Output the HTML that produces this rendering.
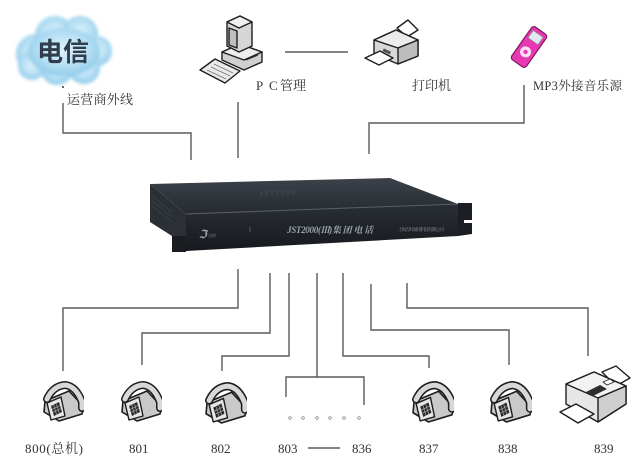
<!DOCTYPE html>
<html><head><meta charset="utf-8"><style>
html,body{margin:0;padding:0;background:#fff;}
svg{display:block;}
text{font-family:"Liberation Serif","Noto Serif CJK SC",serif;fill:#333;}
</style></head><body>
<svg width="644" height="464" viewBox="0 0 644 464" xmlns="http://www.w3.org/2000/svg">
<defs>
<radialGradient id="cg" cx="50%" cy="45%" r="60%">
<stop offset="0" stop-color="#dff2fb"/><stop offset="0.6" stop-color="#b3def3"/><stop offset="1" stop-color="#86c6e6"/>
</radialGradient>
<filter id="bl" x="-10%" y="-10%" width="120%" height="120%"><feGaussianBlur stdDeviation="1.5"/></filter>
<linearGradient id="topg" x1="0" y1="0" x2="0" y2="1">
<stop offset="0" stop-color="#3c424a"/><stop offset="1" stop-color="#262a30"/>
</linearGradient>
<linearGradient id="frg" x1="0" y1="0" x2="0" y2="1">
<stop offset="0" stop-color="#2a2f36"/><stop offset="1" stop-color="#16191d"/>
</linearGradient>
<symbol id="phone" viewBox="0 0 42 40">
<polygon points="3,20 27,10 42,26 40,33 17,40 2,31" fill="#c9c9c9" stroke="#1e1e1e" stroke-width="1.6" stroke-linejoin="round"/>
<path d="M5,18 Q11,5 23,4 Q34,5 40,21 L40,27" fill="none" stroke="#1e1e1e" stroke-width="8" stroke-linecap="round"/>
<path d="M5,18 Q11,5 23,4 Q34,5 40,21 L40,27" fill="none" stroke="#d8d8d8" stroke-width="5" stroke-linecap="round"/>
<polygon points="5,22 19,16 23,35 9,39" fill="#e6e6e6" stroke="#1e1e1e" stroke-width="1.4" stroke-linejoin="round"/>
<polygon points="9,25 17,21 20,31 12,35" fill="#2a2a2a"/>
<g stroke="#bbb" stroke-width="0.6">
<line x1="10" y1="28.5" x2="18" y2="24.5"/><line x1="11" y1="31.5" x2="19" y2="27.5"/>
<line x1="11.7" y1="24" x2="14.7" y2="34"/><line x1="14.4" y1="22.8" x2="17.4" y2="32.8"/>
</g>
</symbol>
</defs>

<!-- connector lines -->
<g stroke="#5a5a5a" stroke-width="1.4" fill="none">
<polyline points="63,103 63,133 191,133 191,160"/>
<line x1="238" y1="102" x2="238" y2="158"/>
<line x1="285" y1="52" x2="348" y2="52"/>
<polyline points="524,85 524,123 369,123 369,154"/>

<polyline points="238,269 238,308 63,308 63,371"/>
<polyline points="270,273 270,333 142,333 142,365"/>
<polyline points="289,273 289,356 222,356 222,371"/>
<polyline points="317,273 317,377"/>
<polyline points="286,397 286,377 364,377 364,405"/>
<polyline points="343,273 343,356 429,356 429,368"/>
<polyline points="371,284 371,330 509,330 509,365"/>
<polyline points="407,283 407,308 588,308 588,356"/>
<line x1="308" y1="448" x2="340" y2="448"/>
</g>
<circle cx="63" cy="87" r="1" fill="#333"/>

<!-- cloud -->
<g filter="url(#bl)" fill="url(#cg)">
<circle cx="36" cy="54" r="20"/><circle cx="55" cy="36" r="20"/><circle cx="80" cy="34" r="18"/>
<circle cx="97" cy="51" r="15"/><circle cx="84" cy="68" r="16"/><circle cx="57" cy="69" r="16"/>
<circle cx="32" cy="66" r="14"/><ellipse cx="64" cy="52" rx="36" ry="24"/>
</g>
<text x="63" y="61" text-anchor="middle" style="font-family:'Noto Sans CJK SC','WenQuanYi Zen Hei',sans-serif;font-size:26px;font-weight:bold;fill:#2f3d4c;">电信</text>

<!-- PC -->
<g stroke="#1e1e1e" stroke-width="1.4" stroke-linejoin="round">
<polygon points="222,52 240,44 262,52 262,62 244,70 222,60" fill="#d0d0d0"/>
<polygon points="222,52 240,44 262,52 244,60" fill="#eee"/>
<polygon points="227,22 240,16 252,22 252,46 239,52 227,46" fill="#d6d6d6"/>
<polygon points="227,22 240,16 252,22 239,28" fill="#f0f0f0"/>
<polygon points="229,28 237,31 237,48 229,45" fill="#bfbfbf"/>
<polygon points="200,70 215,59 240,71 225,83" fill="#e9e9e9"/>
</g>
<g stroke="#444" stroke-width="0.6"><line x1="207" y1="70" x2="226" y2="79"/><line x1="211" y1="67" x2="230" y2="76"/><line x1="214" y1="64" x2="233" y2="73"/></g>
<line x1="246" y1="60" x2="258" y2="55" stroke="#333" stroke-width="1.2"/>
<text x="256" y="90" style="font-size:13px;">P</text>
<text x="269" y="90" style="font-size:13px;">C</text>
<text x="280" y="90" style="font-size:13px;">管理</text>

<!-- printer -->
<g stroke="#1e1e1e" stroke-width="1.4" stroke-linejoin="round">
<polygon points="397,28 408,20 418,30 407,37" fill="#fff"/>
<polygon points="374,40 396,30 418,40 418,56 398,64 374,54" fill="#d8d8d8"/>
<polygon points="374,40 396,30 418,40 398,48" fill="#ececec"/>
<polygon points="398,48 418,40 418,56 398,64" fill="#bdbdbd"/>
<polygon points="365,58 380,51 393,58 379,65" fill="#fff"/>
</g>
<rect x="383" y="50" width="8" height="3" fill="#555" transform="rotate(25 387 51)"/>
<text x="412" y="90" style="font-size:13px;">打印机</text>

<!-- MP3 -->
<g transform="translate(529,47) rotate(35)">
<rect x="-9" y="-20" width="18" height="40" rx="3" fill="#e838b4" stroke="#7a1a5c" stroke-width="1.2"/>
<rect x="-6" y="-16" width="12" height="9" fill="#dfe8ef" stroke="#888" stroke-width="0.6"/>
<circle cx="0" cy="6" r="5.5" fill="#fff" opacity="0.85"/>
<circle cx="0" cy="6" r="2.2" fill="#e838b4"/>
</g>
<text x="533" y="90" style="font-size:12.5px;" textLength="89">MP3外接音乐源</text>

<!-- main device -->
<polygon points="150,184 186,214 186,251 172,251 172,236 150,222" fill="#2b3036"/>
<g stroke="#3f454d" stroke-width="0.6"><line x1="152" y1="196" x2="172" y2="212"/><line x1="152" y1="201" x2="172" y2="217"/><line x1="152" y1="206" x2="172" y2="222"/></g>
<polygon points="150,184 390,178 458,204 186,214" fill="url(#topg)"/>
<polygon points="186,214 458,204 458,236 186,251" fill="url(#frg)"/>
<line x1="186" y1="214" x2="458" y2="204" stroke="#59606a" stroke-width="1"/>
<polygon points="172,236 186,236 186,252 172,252" fill="#1a1c20"/>
<polygon points="458,203 472,203 472,234 458,236" fill="#1b1e22"/>
<rect x="464" y="220" width="8" height="3" fill="#fff"/>
<text x="260" y="196" style="font-size:7px;fill:#4a5058;" transform="rotate(-2 260 196)">J S T 2 0 0 0</text>
<text x="287" y="233" style="font-size:9px;font-style:italic;font-weight:bold;fill:#9aa3ad;" textLength="86">JST2000(Ⅲ)集 团 电 话</text>
<text x="398" y="231" style="font-size:4.5px;fill:#8a939c;" textLength="46">上海吉时通讯科技有限公司</text>
<text x="199" y="238" style="font-size:11px;font-style:italic;font-weight:bold;fill:#9aa3ad;">ℑ</text>
<text x="208" y="237" style="font-size:4px;fill:#8a939c;">吉时</text>
<rect x="249" y="227" width="2" height="5" fill="#3a4048"/>

<!-- phones -->
<use href="#phone" x="42" y="380" width="42" height="42"/>
<use href="#phone" x="120" y="380" width="42" height="42"/>
<use href="#phone" x="204" y="381" width="43" height="43"/>
<use href="#phone" x="411" y="380" width="43" height="43"/>
<use href="#phone" x="489" y="380" width="43" height="43"/>

<!-- fax -->
<g stroke="#1e1e1e" stroke-width="1.4" stroke-linejoin="round">
<polygon points="602,372 616,366 630,378 616,386" fill="#fff"/>
<polygon points="566,384 594,372 626,386 626,404 598,422 566,404" fill="#e6e6e6"/>
<polygon points="566,384 594,372 626,386 598,398" fill="#f2f2f2"/>
<polygon points="598,398 626,386 626,404 598,422" fill="#cfcfcf"/>
<polygon points="560,412 576,404 594,414 578,423" fill="#fff"/>
<polygon points="586,392 600,385 607,389 593,396" fill="#2e2e2e" stroke="none"/>
<polygon points="603,382 610,379 614,382 607,385" fill="#fff" stroke-width="0.8"/>
</g>

<!-- dots -->
<g fill="none" stroke="#777" stroke-width="0.7">
<circle cx="290" cy="418" r="1.3"/><circle cx="303" cy="418" r="1.3"/><circle cx="317" cy="418" r="1.3"/>
<circle cx="330" cy="418" r="1.3"/><circle cx="344" cy="418" r="1.3"/><circle cx="359" cy="418" r="1.3"/>
</g>

<!-- labels -->
<text x="67" y="104" style="font-size:13px;" textLength="66">运营商外线</text>
<g style="font-size:13px;">
<text x="25" y="453" textLength="58">800(总机)</text>
<text x="129" y="453">801</text>
<text x="211" y="453">802</text>
<text x="278" y="453">803</text>
<text x="352" y="453">836</text>
<text x="419" y="453">837</text>
<text x="498" y="453">838</text>
<text x="594" y="453">839</text>
</g>
</svg>
</body></html>
